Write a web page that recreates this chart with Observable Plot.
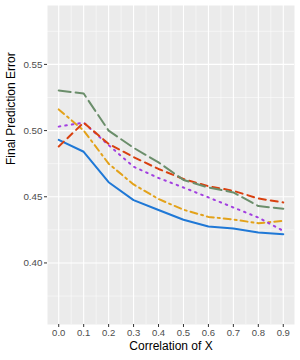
<!DOCTYPE html>
<html><head><meta charset="utf-8">
<script src="https://cdn.jsdelivr.net/npm/d3@7"></script>
<script src="https://cdn.jsdelivr.net/npm/@observablehq/plot@0.6"></script>
<style>body{margin:0;background:#fff;font-family:"Liberation Sans",Arial,sans-serif;}</style>
</head><body><div id="chart"></div>
<script>
const corr = [0.0,0.1,0.2,0.3,0.4,0.5,0.6,0.7,0.8,0.9];
const blue   = [0.493,0.484,0.461,0.4475,0.440,0.4326,0.4275,0.426,0.423,0.4217];
const orange = [0.516,0.500,0.475,0.4593,0.4483,0.4402,0.4348,0.4328,0.430,0.4318];
const purple = [0.503,0.506,0.489,0.4727,0.4642,0.457,0.4495,0.4419,0.4343,0.4242];
const red    = [0.488,0.506,0.490,0.480,0.471,0.4634,0.458,0.4545,0.4487,0.4457];
const green  = [0.5303,0.528,0.500,0.487,0.476,0.4627,0.457,0.4533,0.443,0.441];
const xTicks = [0.0,0.1,0.2,0.3,0.4,0.5,0.6,0.7,0.8,0.9];
const xMinor = [0.05,0.15,0.25,0.35,0.45,0.55,0.65,0.75,0.85];
const yTicks = [0.40,0.45,0.50,0.55];
const yMinor = [0.375,0.425,0.475,0.525,0.575];
const seriesList = [
  {values: blue,   color:"#1F78D6", dash:null},
  {values: orange, color:"#E3A21A", dash:"7,4,2,4"},
  {values: purple, color:"#A23FE0", dash:"1.6,5"},
  {values: red,    color:"#D9400F", dash:"7,5"},
  {values: green,  color:"#6B8E6B", dash:"12,5"}
];
const lineMarks = seriesList.map(s => Plot.line(corr.map((c,i)=>({x:c,y:s.values[i]})), {
  x:"x", y:"y", stroke:s.color, strokeWidth:2, strokeDasharray:s.dash
}));
const chart = Plot.plot({
  width:300, height:360,
  marginLeft:47, marginRight:6, marginTop:5, marginBottom:36,
  style:{fontFamily:"Liberation Sans, Arial, sans-serif", background:"#fff"},
  x:{domain:[-0.045,0.945]},
  y:{domain:[0.3535,0.5945]},
  marks:[
    Plot.frame({fill:"#EBEBEB", stroke:null}),
    Plot.ruleX(xMinor,{stroke:"#fff", strokeWidth:0.5}),
    Plot.ruleY(yMinor,{stroke:"#fff", strokeWidth:0.5}),
    Plot.ruleX(xTicks,{stroke:"#fff", strokeWidth:1.1}),
    Plot.ruleY(yTicks,{stroke:"#fff", strokeWidth:1.1}),
    ...lineMarks,
    Plot.axisX(xTicks,{tickFormat:d3.format(".1f"), tickSize:3, tickPadding:1.5, fontSize:9.5, color:"#4D4D4D", stroke:"#333", label:null}),
    Plot.axisY(yTicks,{tickFormat:d3.format(".2f"), tickSize:3, tickPadding:2, fontSize:9.8, color:"#4D4D4D", stroke:"#333", label:null}),
    Plot.text(["Correlation of X"],{frameAnchor:"bottom", dy:25, fontSize:12, fill:"#000"}),
    Plot.text(["Final Prediction Error"],{frameAnchor:"left", dx:-36, rotate:-90, fontSize:12, fill:"#000"})
  ]
});
document.getElementById("chart").appendChild(chart);
</script></body></html>
